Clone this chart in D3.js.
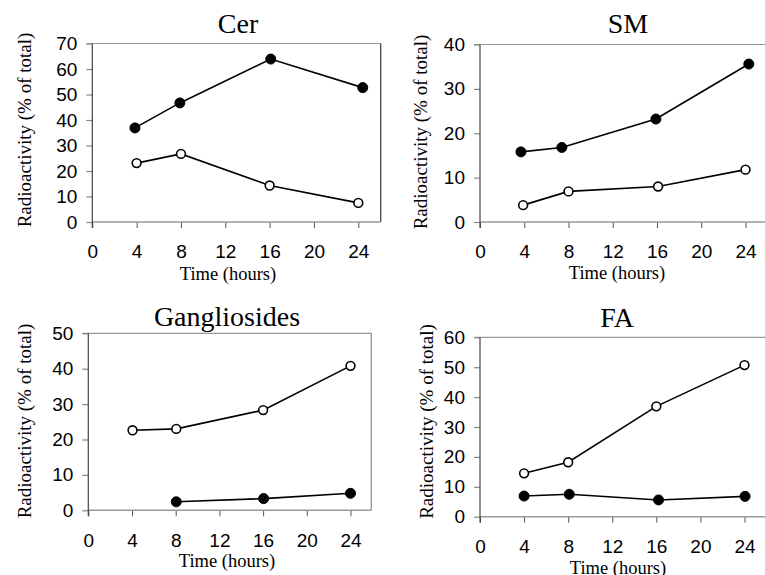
<!DOCTYPE html>
<html>
<head>
<meta charset="utf-8">
<script src="https://cdn.jsdelivr.net/npm/d3@7"></script>
<style>
  html, body { margin: 0; padding: 0; background: #fff; }
  svg { display: block; }
  .serif { font-family: "Liberation Serif", Tinos, "Times New Roman", Times, serif; }
  .sans { font-family: "Liberation Sans", Arimo, Arial, Helvetica, sans-serif; }
</style>
</head>
<body>
<svg id="chart" width="765" height="575"></svg>
<script>
// ---- Data ----
const hourTicks = [0, 4, 8, 12, 16, 20, 24];

const cerTicks = [0, 10, 20, 30, 40, 50, 60, 70];
const cerFilledX = [3.85, 7.9, 16.1, 24.4];
const cerFilledY = [36.9, 46.7, 63.9, 52.7];
const cerOpenX = [4, 8, 16, 24];
const cerOpenY = [23.1, 26.7, 14.3, 7.5];

const smTicks = [0, 10, 20, 30, 40];
const smFilledX = [3.7, 7.4, 15.9, 24.3];
const smFilledY = [15.8, 16.8, 23.2, 35.6];
const smOpenX = [3.9, 8, 16.1, 24];
const smOpenY = [3.8, 6.9, 8.0, 11.8];

const gangTicks = [0, 10, 20, 30, 40, 50];
const gangOpenX = [4.05, 8.05, 16, 24];
const gangOpenY = [22.6, 23.0, 28.3, 40.8];
const gangFilledX = [8.05, 16.05, 24];
const gangFilledY = [2.4, 3.3, 4.8];

const faTicks = [0, 10, 20, 30, 40, 50, 60];
const faOpenX = [4, 8, 16, 24];
const faOpenY = [14.5, 18.2, 36.9, 50.7];
const faFilledX = [4, 8.1, 16.2, 24.05];
const faFilledY = [6.9, 7.5, 5.6, 6.8];

const titles = ["Cer", "SM", "Gangliosides", "FA"];
const xTitle = "Time (hours)";
const yTitle = "Radioactivity (% of total)";

const zip = (xs, ys) => xs.map((x, i) => ({ x, y: ys[i] }));

// ---- Layout (pixel positions) ----
const panels = [
  { title: titles[0], yTicks: cerTicks, yMax: 70,
    filled: zip(cerFilledX, cerFilledY), open: zip(cerOpenX, cerOpenY),
    x0: 92.3, x24: 358.3, yBot: 222, yTop: 43.5, right: 380.7, rightColor: "#333",
    titleX: 238, titleY: 33, xtX: 228, xtY: 279.5, ytX: 24, ytY: 130 },
  { title: titles[1], yTicks: smTicks, yMax: 40,
    filled: zip(smFilledX, smFilledY), open: zip(smOpenX, smOpenY),
    x0: 480, x24: 745.5, yBot: 222, yTop: 44.5, right: 800, rightColor: "#333",
    titleX: 628, titleY: 33, xtX: 617, xtY: 279, ytX: 420, ytY: 132 },
  { title: titles[2], yTicks: gangTicks, yMax: 50,
    filled: zip(gangFilledX, gangFilledY), open: zip(gangOpenX, gangOpenY),
    x0: 88.3, x24: 350.5, yBot: 510.3, yTop: 333.3, right: 371.3, rightColor: "#888",
    titleX: 227, titleY: 325.5, xtX: 227, xtY: 567, ytX: 24, ytY: 421 },
  { title: titles[3], yTicks: faTicks, yMax: 60,
    filled: zip(faFilledX, faFilledY), open: zip(faOpenX, faOpenY),
    x0: 480, x24: 744.5, yBot: 516.7, yTop: 337.3, right: 800, rightColor: "#333",
    titleX: 617, titleY: 327, xtX: 618, xtY: 574, ytX: 426, ytY: 421.5 }
];

const svg = d3.select("#chart");

panels.forEach(p => {
  const x = d3.scaleLinear().domain([0, 24]).range([p.x0, p.x24]);
  const y = d3.scaleLinear().domain([0, p.yMax]).range([p.yBot, p.yTop]);
  const g = svg.append("g");

  // frame: top (light gray) and right border
  g.append("line").attr("x1", p.x0 - 6).attr("x2", p.right)
    .attr("y1", y(p.yMax)).attr("y2", y(p.yMax))
    .attr("stroke", "#999").attr("stroke-width", 1.2);
  g.append("line").attr("x1", p.right).attr("x2", p.right)
    .attr("y1", y(p.yMax)).attr("y2", y(0))
    .attr("stroke", p.rightColor).attr("stroke-width", 1.2);

  // x axis
  const xa = g.append("g").attr("transform", `translate(0,${y(0)})`)
    .call(d3.axisBottom(x).tickValues(hourTicks).tickSize(6).tickPadding(17).tickFormat(d3.format("d")));
  xa.attr("font-family", null).attr("font-size", null);
  xa.select(".domain").remove();
  xa.selectAll(".tick line").attr("stroke", "#555").attr("stroke-width", 1);
  xa.selectAll("text").attr("class", "sans").style("font-size", "19px").attr("fill", "#000");
  g.append("line").attr("x1", p.x0).attr("x2", p.right)
    .attr("y1", y(0)).attr("y2", y(0))
    .attr("stroke", "#999").attr("stroke-width", 1.5);

  // y axis
  const ya = g.append("g").attr("transform", `translate(${p.x0},0)`)
    .call(d3.axisLeft(y).tickValues(p.yTicks).tickSize(6).tickPadding(9).tickFormat(d3.format("d")));
  ya.attr("font-family", null).attr("font-size", null);
  ya.select(".domain").remove();
  ya.selectAll(".tick line").attr("stroke", "#888").attr("stroke-width", 1.2);
  ya.selectAll("text").attr("class", "sans").style("font-size", "19px").attr("fill", "#000");
  g.append("line").attr("x1", p.x0).attr("x2", p.x0)
    .attr("y1", y(p.yMax)).attr("y2", y(0) + 6)
    .attr("stroke", "#444").attr("stroke-width", 1.2);

  // lines
  const line = d3.line().x(d => x(d.x)).y(d => y(d.y));
  [p.filled, p.open].forEach(s => {
    g.append("path").datum(s).attr("d", line)
      .attr("fill", "none").attr("stroke", "#000").attr("stroke-width", 1.6);
  });
  // markers
  g.selectAll(null).data(p.filled).enter().append("circle")
    .attr("cx", d => x(d.x)).attr("cy", d => y(d.y)).attr("r", 5)
    .attr("fill", "#000").attr("stroke", "#000").attr("stroke-width", 1);
  g.selectAll(null).data(p.open).enter().append("circle")
    .attr("cx", d => x(d.x)).attr("cy", d => y(d.y)).attr("r", 4.4)
    .attr("fill", "#fff").attr("stroke", "#000").attr("stroke-width", 1.6);

  // titles
  g.append("text").attr("class", "serif").attr("x", p.titleX).attr("y", p.titleY)
    .attr("text-anchor", "middle").style("font-size", "28px")
    .attr("fill", "#000").text(p.title);
  g.append("text").attr("class", "serif").attr("x", p.xtX).attr("y", p.xtY)
    .attr("text-anchor", "middle").style("font-size", "18.5px")
    .attr("fill", "#000").text(xTitle);
  g.append("text").attr("class", "serif")
    .attr("transform", `translate(${p.ytX},${p.ytY}) rotate(-90)`)
    .attr("text-anchor", "middle").attr("dominant-baseline", "central")
    .style("font-size", "19px")
    .attr("fill", "#000").text(yTitle);
});
</script>
</body>
</html>
